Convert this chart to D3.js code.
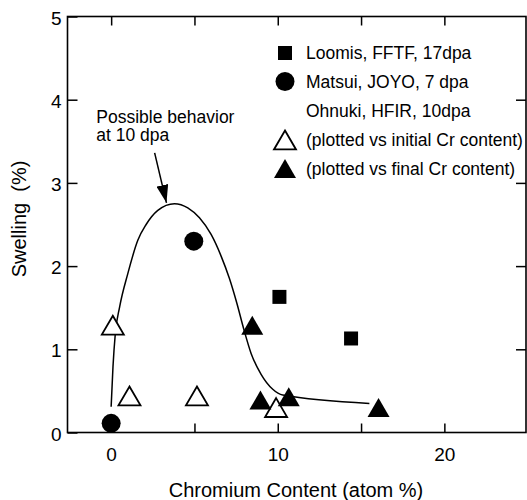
<!DOCTYPE html>
<html>
<head>
<meta charset="utf-8">
<script src="https://cdn.jsdelivr.net/npm/d3@7"></script>
<style>
  html, body { margin: 0; padding: 0; background: #fff; }
  svg { display: block; }
  text { font-family: "Liberation Sans", Arial, Helvetica, sans-serif; fill: #000; }
</style>
</head>
<body>
<svg id="chart" width="527" height="500"></svg>
<script>
// ---- data ----
const xTicks = [0, 5, 10, 15, 20];
const xTickLabels = ["0", "", "10", "", "20"];
const yTicks = [0, 1, 2, 3, 4, 5];
const yTickLabels = ["0", "1", "2", "3", "4", "5"];

const loomisX = [10.1, 14.4];
const loomisY = [1.63, 1.13];

const matsuiX = [0, 4.96];
const matsuiY = [0.11, 2.30];

const ohnukiInitialX = [0.1, 1.1, 5.15, 9.9];
const ohnukiInitialY = [1.29, 0.44, 0.44, 0.30];

const ohnukiFinalX = [8.47, 8.96, 10.66, 16.05];
const ohnukiFinalY = [1.29, 0.39, 0.43, 0.30];

const curveX = [0, 0.11, 0.25, 0.51, 1.0, 1.6, 2.1, 2.8, 3.8, 4.6, 5.3, 6.0, 6.6, 7.1, 7.55, 7.95, 8.4, 9.0, 9.7, 10.3, 15.5];
const curveY = [0.31, 0.79, 1.19, 1.51, 1.91, 2.31, 2.5, 2.67, 2.75, 2.7, 2.58, 2.38, 2.12, 1.85, 1.55, 1.25, 0.95, 0.7, 0.52, 0.45, 0.35];

const legendLabels = [
  "Loomis, FFTF, 17dpa",
  "Matsui, JOYO, 7 dpa",
  "Ohnuki, HFIR, 10dpa",
  "(plotted vs initial Cr content)",
  "(plotted vs final Cr content)"
];
const legendSymbols = ["square", "circle", "none", "openTri", "filledTri"];

const xTitle = "Chromium Content (atom %)";
const yTitle = "Swelling  (%)";
const noteLines = ["Possible behavior", "at 10 dpa"];
// annotation anchors in data units
const noteX = -0.89, noteY = [3.72, 3.5];
const arrowFrom = [2.61, 3.36], arrowTo = [3.32, 2.76];

// ---- layout ----
const L = 67.5, R = 526, T = 16.5, B = 432.5;
const x = d3.scaleLinear().domain([-2.62, 24.9]).range([L, R]);
const y = d3.scaleLinear().domain([0, 5]).range([B, T]);

const svg = d3.select("#chart");

// triangle centered on its bounding box
const triBox = {
  draw(ctx, size) {
    const w = Math.sqrt(size);
    const h = w * 0.86;
    ctx.moveTo(0, -h / 2);
    ctx.lineTo(w / 2, h / 2);
    ctx.lineTo(-w / 2, h / 2);
    ctx.closePath();
  }
};
const triPath = d3.symbol().type(triBox).size(22 * 22)();
const sqPath = d3.symbol().type(d3.symbolSquare).size(14 * 14)();
const circPath = d3.symbol().type(d3.symbolCircle).size(Math.PI * 9.5 * 9.5)();

// ---- axes (ticks inward on all four sides) ----
const fs = "19px";
const gB = svg.append("g").attr("transform", `translate(0,${B})`)
  .call(d3.axisBottom(x).tickValues(xTicks).tickSize(-9).tickPadding(15).tickSizeOuter(0)
    .tickFormat((d, i) => xTickLabels[i]));
const gT = svg.append("g").attr("transform", `translate(0,${T})`)
  .call(d3.axisTop(x).tickValues(xTicks).tickSize(-9).tickFormat("").tickSizeOuter(0));
const gL = svg.append("g").attr("transform", `translate(${L},0)`)
  .call(d3.axisLeft(y).tickValues(yTicks).tickSize(-10).tickPadding(6).tickSizeOuter(0)
    .tickFormat((d, i) => yTickLabels[i]));
const gR = svg.append("g").attr("transform", `translate(${R},0)`)
  .call(d3.axisRight(y).tickValues(yTicks.slice(1, -1)).tickSize(-10).tickFormat("").tickSizeOuter(0));

[gB, gT, gL, gR].forEach(g => {
  g.select(".domain").remove();
  g.selectAll(".tick line").attr("stroke", "#000").attr("stroke-width", 1.5);
  g.selectAll(".tick text").style("font-size", fs).attr("fill", "#000");
});
gL.selectAll(".tick text").attr("dy", "0.4em");

// frame
svg.append("rect")
  .attr("x", L).attr("y", T).attr("width", R - L).attr("height", B - T)
  .attr("fill", "none").attr("stroke", "#000").attr("stroke-width", 1.6);

// axis titles
svg.append("text")
  .attr("x", 296).attr("y", 497)
  .attr("text-anchor", "middle")
  .style("font-size", "20px")
  .text(xTitle);
svg.append("text")
  .attr("transform", "translate(26,219) rotate(-90)")
  .attr("text-anchor", "middle")
  .style("font-size", "20px")
  .style("white-space", "pre")
  .text(yTitle);

// ---- curve ----
const curvePts = curveX.map((v, i) => [v, curveY[i]]);
svg.append("path")
  .datum(curvePts)
  .attr("fill", "none").attr("stroke", "#000").attr("stroke-width", 1.5)
  .attr("d", d3.line().x(d => x(d[0])).y(d => y(d[1])).curve(d3.curveMonotoneX));

// ---- markers ----
function drawMarks(xs, ys, path, fill, stroke, sw) {
  svg.append("g").selectAll("path")
    .data(xs.map((v, i) => [v, ys[i]]))
    .join("path")
    .attr("transform", d => `translate(${x(d[0])},${y(d[1])})`)
    .attr("d", path)
    .attr("fill", fill).attr("stroke", stroke).attr("stroke-width", sw);
}
drawMarks(ohnukiInitialX, ohnukiInitialY, triPath, "#fff", "#000", 1.8);
drawMarks(ohnukiFinalX, ohnukiFinalY, triPath, "#000", "none", 0);
drawMarks(loomisX, loomisY, sqPath, "#000", "none", 0);
drawMarks(matsuiX, matsuiY, circPath, "#000", "none", 0);

// ---- annotation ----
const note = svg.append("text").style("font-size", "17.5px");
noteLines.forEach((t, i) => {
  note.append("tspan").attr("x", x(noteX)).attr("y", y(noteY[i])).text(t);
});
svg.append("defs").append("marker")
  .attr("id", "ah").attr("viewBox", "0 0 18 12")
  .attr("refX", 18).attr("refY", 6)
  .attr("markerWidth", 18).attr("markerHeight", 12)
  .attr("markerUnits", "userSpaceOnUse")
  .attr("orient", "auto")
  .append("path").attr("d", "M0,0 L18,6 L0,12 Z").attr("fill", "#000");
svg.append("line")
  .attr("x1", x(arrowFrom[0])).attr("y1", y(arrowFrom[1]))
  .attr("x2", x(arrowTo[0])).attr("y2", y(arrowTo[1]))
  .attr("stroke", "#000").attr("stroke-width", 1.5)
  .attr("marker-end", "url(#ah)");

// ---- legend ----
const legRowY = [53, 81.5, 110.5, 140, 168.5];
const legSymX = 285, legTextX = 306;
const leg = svg.append("g");
legendLabels.forEach((lab, i) => {
  const s = legendSymbols[i];
  const tr = `translate(${legSymX},${legRowY[i]})`;
  if (s === "square") leg.append("path").attr("transform", tr).attr("d", sqPath).attr("fill", "#000");
  if (s === "circle") leg.append("path").attr("transform", tr).attr("d", circPath).attr("fill", "#000");
  if (s === "openTri") leg.append("path").attr("transform", tr).attr("d", triPath).attr("fill", "#fff").attr("stroke", "#000").attr("stroke-width", 1.8);
  if (s === "filledTri") leg.append("path").attr("transform", tr).attr("d", triPath).attr("fill", "#000");
  leg.append("text")
    .attr("x", legTextX).attr("y", legRowY[i])
    .attr("dy", "0.36em")
    .style("font-size", "17.5px")
    .text(lab);
});
</script>
</body>
</html>
